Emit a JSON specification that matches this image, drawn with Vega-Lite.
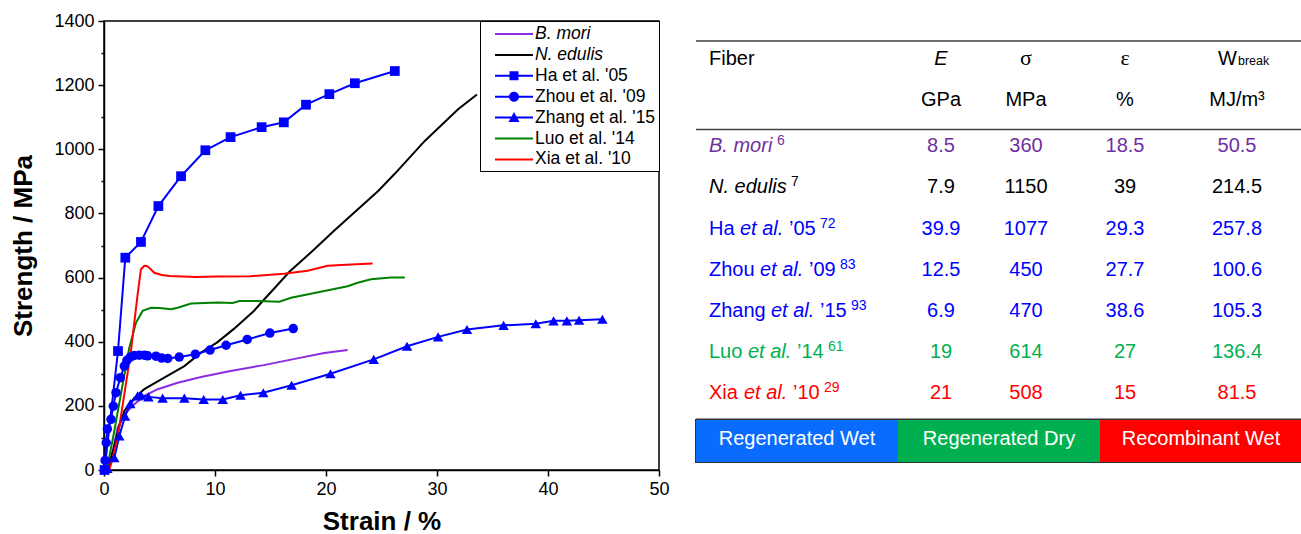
{
  "$schema": "https://vega.github.io/schema/vega-lite/v6.json",
  "padding": {"left": 10, "top": 11, "right": 0, "bottom": 0},
  "background": "white",
  "config": {
    "font": "Liberation Sans",
    "view": {"stroke": null},
    "legend": {"labelFontSize": 17.5, "labelColor": "black", "labelLimit": 0, "labelOffset": 32, "symbolSize": 400, "symbolStrokeWidth": 0, "symbolOpacity": 1, "rowPadding": 1.9, "padding": 3, "strokeColor": "black", "fillColor": "white"}
  },
  "datasets": {
    "curves": [
      {"series": "B. mori", "strain": 0.3, "stress": 0},
      {"series": "B. mori", "strain": 0.8, "stress": 60},
      {"series": "B. mori", "strain": 1.23, "stress": 132},
      {"series": "B. mori", "strain": 1.83, "stress": 174},
      {"series": "B. mori", "strain": 2.73, "stress": 205},
      {"series": "B. mori", "strain": 3.63, "stress": 231},
      {"series": "B. mori", "strain": 4.84, "stress": 252},
      {"series": "B. mori", "strain": 6.64, "stress": 272},
      {"series": "B. mori", "strain": 8.74, "stress": 290},
      {"series": "B. mori", "strain": 11.4, "stress": 309},
      {"series": "B. mori", "strain": 14.4, "stress": 327},
      {"series": "B. mori", "strain": 17.4, "stress": 348},
      {"series": "B. mori", "strain": 19.85, "stress": 365},
      {"series": "B. mori", "strain": 21.95, "stress": 374},
      {"series": "N. edulis", "strain": 0.3, "stress": 0},
      {"series": "N. edulis", "strain": 0.9, "stress": 70},
      {"series": "N. edulis", "strain": 1.4, "stress": 140},
      {"series": "N. edulis", "strain": 1.83, "stress": 184},
      {"series": "N. edulis", "strain": 2.73, "stress": 225},
      {"series": "N. edulis", "strain": 3.63, "stress": 252},
      {"series": "N. edulis", "strain": 5.43, "stress": 288},
      {"series": "N. edulis", "strain": 7.24, "stress": 324},
      {"series": "N. edulis", "strain": 8.74, "stress": 366},
      {"series": "N. edulis", "strain": 10.2, "stress": 398},
      {"series": "N. edulis", "strain": 11.7, "stress": 440},
      {"series": "N. edulis", "strain": 13.5, "stress": 496},
      {"series": "N. edulis", "strain": 14.3, "stress": 527},
      {"series": "N. edulis", "strain": 15.5, "stress": 572},
      {"series": "N. edulis", "strain": 16.7, "stress": 618},
      {"series": "N. edulis", "strain": 18.95, "stress": 688},
      {"series": "N. edulis", "strain": 20.7, "stress": 745},
      {"series": "N. edulis", "strain": 22.3, "stress": 795},
      {"series": "N. edulis", "strain": 24.7, "stress": 870},
      {"series": "N. edulis", "strain": 26.15, "stress": 922},
      {"series": "N. edulis", "strain": 28.9, "stress": 1026},
      {"series": "N. edulis", "strain": 31.9, "stress": 1125},
      {"series": "N. edulis", "strain": 33.6, "stress": 1171},
      {"series": "Ha et al. '05", "strain": 0.05, "stress": 0},
      {"series": "Ha et al. '05", "strain": 1.26, "stress": 371},
      {"series": "Ha et al. '05", "strain": 1.92, "stress": 662},
      {"series": "Ha et al. '05", "strain": 3.33, "stress": 711},
      {"series": "Ha et al. '05", "strain": 4.9, "stress": 823},
      {"series": "Ha et al. '05", "strain": 6.94, "stress": 916},
      {"series": "Ha et al. '05", "strain": 9.13, "stress": 997},
      {"series": "Ha et al. '05", "strain": 11.4, "stress": 1038},
      {"series": "Ha et al. '05", "strain": 14.2, "stress": 1069},
      {"series": "Ha et al. '05", "strain": 16.2, "stress": 1084},
      {"series": "Ha et al. '05", "strain": 18.2, "stress": 1139},
      {"series": "Ha et al. '05", "strain": 20.3, "stress": 1172},
      {"series": "Ha et al. '05", "strain": 22.6, "stress": 1206},
      {"series": "Ha et al. '05", "strain": 26.2, "stress": 1244},
      {"series": "Zhou et al. '09", "strain": 0.1, "stress": 30},
      {"series": "Zhou et al. '09", "strain": 0.2, "stress": 85},
      {"series": "Zhou et al. '09", "strain": 0.3, "stress": 128},
      {"series": "Zhou et al. '09", "strain": 0.63, "stress": 158},
      {"series": "Zhou et al. '09", "strain": 0.84, "stress": 199},
      {"series": "Zhou et al. '09", "strain": 1.08, "stress": 241},
      {"series": "Zhou et al. '09", "strain": 1.47, "stress": 288},
      {"series": "Zhou et al. '09", "strain": 1.83, "stress": 324},
      {"series": "Zhou et al. '09", "strain": 2.07, "stress": 342},
      {"series": "Zhou et al. '09", "strain": 2.37, "stress": 352},
      {"series": "Zhou et al. '09", "strain": 2.73, "stress": 357},
      {"series": "Zhou et al. '09", "strain": 3.18, "stress": 358},
      {"series": "Zhou et al. '09", "strain": 3.63, "stress": 358},
      {"series": "Zhou et al. '09", "strain": 3.93, "stress": 356},
      {"series": "Zhou et al. '09", "strain": 4.68, "stress": 355},
      {"series": "Zhou et al. '09", "strain": 5.2, "stress": 349},
      {"series": "Zhou et al. '09", "strain": 5.74, "stress": 348},
      {"series": "Zhou et al. '09", "strain": 6.78, "stress": 352},
      {"series": "Zhou et al. '09", "strain": 8.23, "stress": 361},
      {"series": "Zhou et al. '09", "strain": 9.55, "stress": 374},
      {"series": "Zhou et al. '09", "strain": 11.0, "stress": 389},
      {"series": "Zhou et al. '09", "strain": 12.9, "stress": 407},
      {"series": "Zhou et al. '09", "strain": 14.95, "stress": 427},
      {"series": "Zhou et al. '09", "strain": 17.05, "stress": 441},
      {"series": "Zhang et al. '15", "strain": 0.3, "stress": 5},
      {"series": "Zhang et al. '15", "strain": 0.93, "stress": 38},
      {"series": "Zhang et al. '15", "strain": 1.38, "stress": 106},
      {"series": "Zhang et al. '15", "strain": 1.9, "stress": 168},
      {"series": "Zhang et al. '15", "strain": 2.37, "stress": 207},
      {"series": "Zhang et al. '15", "strain": 3.03, "stress": 231},
      {"series": "Zhang et al. '15", "strain": 3.33, "stress": 233},
      {"series": "Zhang et al. '15", "strain": 4.0, "stress": 228},
      {"series": "Zhang et al. '15", "strain": 5.28, "stress": 224},
      {"series": "Zhang et al. '15", "strain": 7.24, "stress": 224},
      {"series": "Zhang et al. '15", "strain": 8.98, "stress": 220},
      {"series": "Zhang et al. '15", "strain": 10.7, "stress": 220},
      {"series": "Zhang et al. '15", "strain": 12.3, "stress": 233},
      {"series": "Zhang et al. '15", "strain": 14.35, "stress": 241},
      {"series": "Zhang et al. '15", "strain": 16.9, "stress": 264},
      {"series": "Zhang et al. '15", "strain": 20.4, "stress": 300},
      {"series": "Zhang et al. '15", "strain": 24.3, "stress": 345},
      {"series": "Zhang et al. '15", "strain": 27.3, "stress": 386},
      {"series": "Zhang et al. '15", "strain": 30.1, "stress": 415},
      {"series": "Zhang et al. '15", "strain": 32.7, "stress": 438},
      {"series": "Zhang et al. '15", "strain": 36.0, "stress": 451},
      {"series": "Zhang et al. '15", "strain": 38.9, "stress": 456},
      {"series": "Zhang et al. '15", "strain": 40.5, "stress": 465},
      {"series": "Zhang et al. '15", "strain": 41.7, "stress": 465},
      {"series": "Zhang et al. '15", "strain": 42.8, "stress": 467},
      {"series": "Zhang et al. '15", "strain": 44.9, "stress": 470},
      {"series": "Luo et al. '14", "strain": 0.27, "stress": 3},
      {"series": "Luo et al. '14", "strain": 0.93, "stress": 122},
      {"series": "Luo et al. '14", "strain": 1.68, "stress": 267},
      {"series": "Luo et al. '14", "strain": 2.28, "stress": 381},
      {"series": "Luo et al. '14", "strain": 2.88, "stress": 459},
      {"series": "Luo et al. '14", "strain": 3.48, "stress": 496},
      {"series": "Luo et al. '14", "strain": 4.23, "stress": 506},
      {"series": "Luo et al. '14", "strain": 5.0, "stress": 505},
      {"series": "Luo et al. '14", "strain": 6.04, "stress": 501},
      {"series": "Luo et al. '14", "strain": 6.64, "stress": 506},
      {"series": "Luo et al. '14", "strain": 7.84, "stress": 519},
      {"series": "Luo et al. '14", "strain": 10.24, "stress": 522},
      {"series": "Luo et al. '14", "strain": 11.6, "stress": 521},
      {"series": "Luo et al. '14", "strain": 12.2, "stress": 527},
      {"series": "Luo et al. '14", "strain": 13.85, "stress": 527},
      {"series": "Luo et al. '14", "strain": 15.8, "stress": 525},
      {"series": "Luo et al. '14", "strain": 16.85, "stress": 537},
      {"series": "Luo et al. '14", "strain": 19.85, "stress": 558},
      {"series": "Luo et al. '14", "strain": 21.95, "stress": 573},
      {"series": "Luo et al. '14", "strain": 22.85, "stress": 584},
      {"series": "Luo et al. '14", "strain": 24.05, "stress": 595},
      {"series": "Luo et al. '14", "strain": 25.85, "stress": 600},
      {"series": "Luo et al. '14", "strain": 27.1, "stress": 600},
      {"series": "Xia et al. '10", "strain": 0.48, "stress": 0},
      {"series": "Xia et al. '10", "strain": 0.8, "stress": 40},
      {"series": "Xia et al. '10", "strain": 1.23, "stress": 101},
      {"series": "Xia et al. '10", "strain": 1.83, "stress": 236},
      {"series": "Xia et al. '10", "strain": 2.43, "stress": 371},
      {"series": "Xia et al. '10", "strain": 3.03, "stress": 548},
      {"series": "Xia et al. '10", "strain": 3.33, "stress": 626},
      {"series": "Xia et al. '10", "strain": 3.63, "stress": 637},
      {"series": "Xia et al. '10", "strain": 3.85, "stress": 636},
      {"series": "Xia et al. '10", "strain": 4.1, "stress": 630},
      {"series": "Xia et al. '10", "strain": 4.53, "stress": 615},
      {"series": "Xia et al. '10", "strain": 5.2, "stress": 608},
      {"series": "Xia et al. '10", "strain": 5.9, "stress": 605},
      {"series": "Xia et al. '10", "strain": 8.3, "stress": 602},
      {"series": "Xia et al. '10", "strain": 10.1, "stress": 603},
      {"series": "Xia et al. '10", "strain": 13.2, "stress": 604},
      {"series": "Xia et al. '10", "strain": 16.2, "stress": 612},
      {"series": "Xia et al. '10", "strain": 18.35, "stress": 621},
      {"series": "Xia et al. '10", "strain": 20.15, "stress": 637},
      {"series": "Xia et al. '10", "strain": 22.25, "stress": 641},
      {"series": "Xia et al. '10", "strain": 24.2, "stress": 644}
    ]
  },
  "spacing": 37,
  "bounds": "flush",
  "resolve": {
    "scale": {"x": "independent", "y": "independent", "color": "independent", "shape": "independent"}
  },
  "hconcat": [
    {
      "width": 555,
      "height": 449,
      "view": {"stroke": "black", "strokeWidth": 1.5},
      "data": {"name": "curves"},
      "resolve": {"axis": {"y": "independent"}},
      "layer": [
        {
          "mark": {"type": "line", "strokeWidth": 2},
          "encoding": {
            "x": {
              "field": "strain", "type": "quantitative",
              "scale": {"domain": [0, 50], "nice": false, "padding": 0, "zero": false},
              "axis": {
                "title": "Strain / %", "values": [0, 10, 20, 30, 40, 50], "grid": false, "labelFlush": false,
                "tickSize": 6, "tickWidth": 1.5, "domainWidth": 1.5, "labelPadding": 4,
                "domainColor": "black", "tickColor": "black", "labelColor": "black", "titleColor": "black",
                "labelFontSize": 18, "titleFontSize": 26, "titleFontWeight": "bold", "titlePadding": 10
              }
            },
            "y": {
              "field": "stress", "type": "quantitative",
              "scale": {"domain": [0, 1400], "nice": false, "padding": 0, "zero": false},
              "axis": {
                "title": "Strength / MPa", "orient": "left", "values": [0, 200, 400, 600, 800, 1000, 1200, 1400], "grid": false, "format": "d", "labelFlush": false,
                "tickSize": 6, "tickWidth": 1.5, "domainWidth": 1.5, "labelPadding": 4,
                "domainColor": "black", "tickColor": "black", "labelColor": "black", "titleColor": "black",
                "labelFontSize": 18, "titleFontSize": 26, "titleFontWeight": "bold", "titlePadding": 17
              }
            },
            "color": {
              "field": "series", "type": "nominal",
              "scale": {
                "domain": ["B. mori", "N. edulis", "Ha et al. '05", "Zhou et al. '09", "Zhang et al. '15", "Luo et al. '14", "Xia et al. '10"],
                "range": ["#8B2BE2", "#000000", "#0000FF", "#0000FF", "#0000FF", "#008000", "#FF0000"]
              }
            }
          }
        },
        {
          "mark": {"type": "point", "filled": true, "opacity": 0},
          "encoding": {
            "x": {"field": "strain", "type": "quantitative"},
            "y": {
              "field": "stress", "type": "quantitative",
              "axis": {
                "orient": "left", "title": null, "labels": false, "domain": false, "grid": false,
                "values": [100, 300, 500, 700, 900, 1100, 1300], "tickSize": 3, "tickWidth": 1.5, "tickColor": "black"
              }
            },
            "color": {
              "field": "series", "type": "nominal",
              "legend": {
                "orient": "top-right", "offset": 0, "title": null,
                "encode": {"labels": {"update": {"fontStyle": {"signal": "indexof(['B. mori','N. edulis'], datum.label) >= 0 ? 'italic' : 'normal'"}}}}
              }
            },
            "shape": {
              "field": "series", "type": "nominal",
              "scale": {
                "domain": ["B. mori", "N. edulis", "Ha et al. '05", "Zhou et al. '09", "Zhang et al. '15", "Luo et al. '14", "Xia et al. '10"],
                "range": [
                  "M0.2,-0.1H4V0.1H0.2Z",
                  "M0.2,-0.1H4V0.1H0.2Z",
                  "M0.2,-0.1H4V0.1H0.2ZM1.65,-0.45H2.55V0.45H1.65Z",
                  "M0.2,-0.1H4V0.1H0.2ZM2.6,0A0.5,0.5 0 1,1 1.6,0A0.5,0.5 0 1,1 2.6,0Z",
                  "M0.2,-0.1H4V0.1H0.2ZM2.1,-0.55L2.65,0.45H1.55Z",
                  "M0.2,-0.1H4V0.1H0.2Z",
                  "M0.2,-0.1H4V0.1H0.2Z"
                ]
              },
              "legend": {"orient": "top-right", "offset": 0, "title": null}
            }
          }
        },
        {
          "transform": [{"filter": {"field": "series", "equal": "Ha et al. '05"}}],
          "mark": {"type": "point", "shape": "square", "filled": true, "opacity": 1, "size": 95, "color": "#0000FF"},
          "encoding": {
            "x": {"field": "strain", "type": "quantitative"},
            "y": {"field": "stress", "type": "quantitative", "axis": null}
          }
        },
        {
          "transform": [{"filter": {"field": "series", "equal": "Zhou et al. '09"}}],
          "mark": {"type": "point", "shape": "circle", "filled": true, "opacity": 1, "size": 90, "color": "#0000FF"},
          "encoding": {
            "x": {"field": "strain", "type": "quantitative"},
            "y": {"field": "stress", "type": "quantitative", "axis": null}
          }
        },
        {
          "transform": [{"filter": {"field": "series", "equal": "Zhang et al. '15"}}],
          "mark": {"type": "point", "shape": "triangle-up", "filled": true, "opacity": 1, "size": 110, "color": "#0000FF"},
          "encoding": {
            "x": {"field": "strain", "type": "quantitative"},
            "y": {"field": "stress", "type": "quantitative", "axis": null}
          }
        }
      ]
    },
    {
      "spacing": 0,
      "bounds": "flush",
      "resolve": {"scale": {"color": "independent", "x": "independent", "y": "independent"}},
      "vconcat": [
        {
          "width": 606,
          "height": 399,
          "resolve": {"scale": {"x": "independent"}},
          "layer": [
            {
              "data": {"values": [{"line": "top", "row": -0.7}, {"line": "header", "row": 1.45}]},
              "mark": {"type": "rule", "strokeWidth": 1.5, "color": "#404040"},
              "encoding": {
                "y": {"field": "row", "type": "quantitative", "scale": {"domain": [-1.1866, 8.5], "reverse": true, "nice": false, "zero": false}, "axis": null}
              }
            },
            {
              "data": {"values": [{"line": "bottom", "row": 8.5}]},
              "mark": {"type": "rule", "strokeWidth": 3, "color": "#333333"},
              "encoding": {
                "y": {"field": "row", "type": "quantitative", "axis": null}
              }
            },
            {
              "data": {"values": [{"row": 0, "col": 0, "t": "Fiber"}]},
              "mark": {"type": "text", "align": "left", "baseline": "alphabetic", "fontSize": 20, "dy": -5, "color": "black"},
              "encoding": {
                "x": {"field": "col", "type": "quantitative", "scale": {"domain": [0, 1, 2, 3, 4], "range": [13, 245, 330, 429, 541], "nice": false, "zero": false}, "axis": null},
                "y": {"field": "row", "type": "quantitative", "axis": null},
                "text": {"field": "t"}
              }
            },
            {
              "data": {"values": [{"row": 1, "col": 1, "t": "GPa"}, {"row": 1, "col": 2, "t": "MPa"}, {"row": 1, "col": 3, "t": "%"}, {"row": 1, "col": 4, "t": "MJ/m³"}]},
              "mark": {"type": "text", "align": "center", "baseline": "alphabetic", "fontSize": 20, "dy": -5, "color": "black"},
              "encoding": {
                "x": {"field": "col", "type": "quantitative", "scale": {"domain": [0, 1, 2, 3, 4], "range": [13, 245, 330, 429, 541], "nice": false, "zero": false}, "axis": null},
                "y": {"field": "row", "type": "quantitative", "axis": null},
                "text": {"field": "t"}
              }
            },
            {
              "data": {"values": [{"row": 0, "col": 1, "t": "E"}]},
              "mark": {"type": "text", "align": "center", "baseline": "alphabetic", "fontSize": 20, "fontStyle": "italic", "dy": -5, "color": "black"},
              "encoding": {
                "x": {"field": "col", "type": "quantitative", "scale": {"domain": [0, 1, 2, 3, 4], "range": [13, 245, 330, 429, 541], "nice": false, "zero": false}, "axis": null},
                "y": {"field": "row", "type": "quantitative", "axis": null},
                "text": {"field": "t"}
              }
            },
            {
              "data": {"values": [{"row": 0, "col": 2, "t": "σ"}, {"row": 0, "col": 3, "t": "ε"}]},
              "mark": {"type": "text", "align": "center", "baseline": "alphabetic", "fontSize": 22, "font": "Liberation Serif", "dy": -5, "color": "black"},
              "encoding": {
                "x": {"field": "col", "type": "quantitative", "scale": {"domain": [0, 1, 2, 3, 4], "range": [13, 245, 330, 429, 541], "nice": false, "zero": false}, "axis": null},
                "y": {"field": "row", "type": "quantitative", "axis": null},
                "text": {"field": "t"}
              }
            },
            {
              "data": {"values": [{"row": 0, "col": 4, "t": "W"}]},
              "mark": {"type": "text", "align": "right", "baseline": "alphabetic", "fontSize": 20, "dy": -5, "color": "black"},
              "encoding": {
                "x": {"field": "col", "type": "quantitative", "scale": {"domain": [0, 1, 2, 3, 4], "range": [13, 245, 330, 429, 541], "nice": false, "zero": false}, "axis": null},
                "y": {"field": "row", "type": "quantitative", "axis": null},
                "text": {"field": "t"}
              }
            },
            {
              "data": {"values": [{"row": 0, "col": 4, "t": "break"}]},
              "mark": {"type": "text", "align": "left", "baseline": "alphabetic", "fontSize": 12.5, "dy": -5, "dx": 1, "color": "black"},
              "encoding": {
                "x": {"field": "col", "type": "quantitative", "scale": {"domain": [0, 1, 2, 3, 4], "range": [13, 245, 330, 429, 541], "nice": false, "zero": false}, "axis": null},
                "y": {"field": "row", "type": "quantitative", "axis": null},
                "text": {"field": "t"}
              }
            },
            {
              "data": {"values": [
                {"row": 2, "col": 1, "t": "8.5", "g": "bmori"}, {"row": 2, "col": 2, "t": "360", "g": "bmori"}, {"row": 2, "col": 3, "t": "18.5", "g": "bmori"}, {"row": 2, "col": 4, "t": "50.5", "g": "bmori"},
                {"row": 3, "col": 1, "t": "7.9", "g": "nedulis"}, {"row": 3, "col": 2, "t": "1150", "g": "nedulis"}, {"row": 3, "col": 3, "t": "39", "g": "nedulis"}, {"row": 3, "col": 4, "t": "214.5", "g": "nedulis"},
                {"row": 4, "col": 1, "t": "39.9", "g": "wet"}, {"row": 4, "col": 2, "t": "1077", "g": "wet"}, {"row": 4, "col": 3, "t": "29.3", "g": "wet"}, {"row": 4, "col": 4, "t": "257.8", "g": "wet"},
                {"row": 5, "col": 1, "t": "12.5", "g": "wet"}, {"row": 5, "col": 2, "t": "450", "g": "wet"}, {"row": 5, "col": 3, "t": "27.7", "g": "wet"}, {"row": 5, "col": 4, "t": "100.6", "g": "wet"},
                {"row": 6, "col": 1, "t": "6.9", "g": "wet"}, {"row": 6, "col": 2, "t": "470", "g": "wet"}, {"row": 6, "col": 3, "t": "38.6", "g": "wet"}, {"row": 6, "col": 4, "t": "105.3", "g": "wet"},
                {"row": 7, "col": 1, "t": "19", "g": "dry"}, {"row": 7, "col": 2, "t": "614", "g": "dry"}, {"row": 7, "col": 3, "t": "27", "g": "dry"}, {"row": 7, "col": 4, "t": "136.4", "g": "dry"},
                {"row": 8, "col": 1, "t": "21", "g": "recomb"}, {"row": 8, "col": 2, "t": "508", "g": "recomb"}, {"row": 8, "col": 3, "t": "15", "g": "recomb"}, {"row": 8, "col": 4, "t": "81.5", "g": "recomb"}
              ]},
              "mark": {"type": "text", "align": "center", "baseline": "alphabetic", "fontSize": 20},
              "encoding": {
                "x": {"field": "col", "type": "quantitative", "scale": {"domain": [0, 1, 2, 3, 4], "range": [13, 245, 330, 429, 541], "nice": false, "zero": false}, "axis": null},
                "y": {"field": "row", "type": "quantitative", "axis": null},
                "text": {"field": "t"},
                "color": {
                  "field": "g", "type": "nominal", "legend": null,
                  "scale": {"domain": ["bmori", "nedulis", "wet", "dry", "recomb"], "range": ["#7030A0", "#000000", "#0000FF", "#00B050", "#FF0000"]}
                }
              }
            },
            {
              "data": {"values": [
                {"row": 4, "col": 0, "t": "Ha", "g": "wet"}, {"row": 5, "col": 0, "t": "Zhou", "g": "wet"}, {"row": 6, "col": 0, "t": "Zhang", "g": "wet"},
                {"row": 7, "col": 0, "t": "Luo", "g": "dry"}, {"row": 8, "col": 0, "t": "Xia", "g": "recomb"}
              ]},
              "mark": {"type": "text", "align": "left", "baseline": "alphabetic", "fontSize": 20},
              "encoding": {
                "x": {"field": "col", "type": "quantitative", "scale": {"domain": [0, 1, 2, 3, 4], "range": [13, 245, 330, 429, 541], "nice": false, "zero": false}, "axis": null},
                "y": {"field": "row", "type": "quantitative", "axis": null},
                "text": {"field": "t"},
                "color": {"field": "g", "type": "nominal", "legend": null}
              }
            },
            {
              "data": {"values": [
                {"row": 2, "t": "B. mori", "g": "bmori"}, {"row": 3, "t": "N. edulis", "g": "nedulis"}, {"row": 4, "t": "et al.", "g": "wet"},
                {"row": 5, "t": "et al.", "g": "wet"}, {"row": 6, "t": "et al.", "g": "wet"}, {"row": 7, "t": "et al.", "g": "dry"}, {"row": 8, "t": "et al.", "g": "recomb"}
              ]},
              "mark": {"type": "text", "align": "left", "baseline": "alphabetic", "fontSize": 20, "fontStyle": "italic"},
              "encoding": {
                "x": {"field": "row", "type": "quantitative", "scale": {"domain": [2, 3, 4, 5, 6, 7, 8], "range": [13, 13, 44, 64, 75, 52, 48], "nice": false, "zero": false}, "axis": null},
                "y": {"field": "row", "type": "quantitative", "axis": null},
                "text": {"field": "t"},
                "color": {"field": "g", "type": "nominal", "legend": null}
              }
            },
            {
              "data": {"values": [
                {"row": 4, "t": "’05", "g": "wet"}, {"row": 5, "t": "’09", "g": "wet"}, {"row": 6, "t": "’15", "g": "wet"},
                {"row": 7, "t": "’14", "g": "dry"}, {"row": 8, "t": "’10", "g": "recomb"}
              ]},
              "mark": {"type": "text", "align": "left", "baseline": "alphabetic", "fontSize": 20},
              "encoding": {
                "x": {"field": "row", "type": "quantitative", "scale": {"domain": [4, 5, 6, 7, 8], "range": [93, 113, 124, 101, 97], "nice": false, "zero": false}, "axis": null},
                "y": {"field": "row", "type": "quantitative", "axis": null},
                "text": {"field": "t"},
                "color": {"field": "g", "type": "nominal", "legend": null}
              }
            },
            {
              "data": {"values": [
                {"row": 2, "t": "6", "g": "bmori"}, {"row": 3, "t": "7", "g": "nedulis"}, {"row": 4, "t": "72", "g": "wet"},
                {"row": 5, "t": "83", "g": "wet"}, {"row": 6, "t": "93", "g": "wet"}, {"row": 7, "t": "61", "g": "dry"}, {"row": 8, "t": "29", "g": "recomb"}
              ]},
              "mark": {"type": "text", "align": "left", "baseline": "alphabetic", "fontSize": 14, "dy": -7},
              "encoding": {
                "x": {"field": "row", "type": "quantitative", "scale": {"domain": [2, 3, 4, 5, 6, 7, 8], "range": [81, 95, 124, 144, 155, 132, 128], "nice": false, "zero": false}, "axis": null},
                "y": {"field": "row", "type": "quantitative", "axis": null},
                "text": {"field": "t"},
                "color": {"field": "g", "type": "nominal", "legend": null}
              }
            }
          ]
        },
        {
          "width": 606,
          "height": 42,
          "view": {"stroke": "#333333", "strokeWidth": 2},
          "data": {"values": [{"cat": "Regenerated Wet"}, {"cat": "Regenerated Dry"}, {"cat": "Recombinant Wet"}]},
          "layer": [
            {
              "mark": {"type": "rect"},
              "encoding": {
                "x": {"field": "cat", "type": "nominal", "sort": null, "axis": null,
                      "scale": {"domain": ["Regenerated Wet", "Regenerated Dry", "Recombinant Wet"], "paddingInner": 0, "paddingOuter": 0}},
                "color": {"field": "cat", "type": "nominal", "legend": null,
                          "scale": {"domain": ["Regenerated Wet", "Regenerated Dry", "Recombinant Wet"], "range": ["#0A6CFF", "#00B050", "#FF0000"]}}
              }
            },
            {
              "mark": {"type": "text", "color": "white", "fontSize": 20, "baseline": "middle", "dy": -2},
              "encoding": {
                "x": {"field": "cat", "type": "nominal", "sort": null, "axis": null},
                "text": {"field": "cat"}
              }
            }
          ]
        }
      ]
    }
  ]
}
